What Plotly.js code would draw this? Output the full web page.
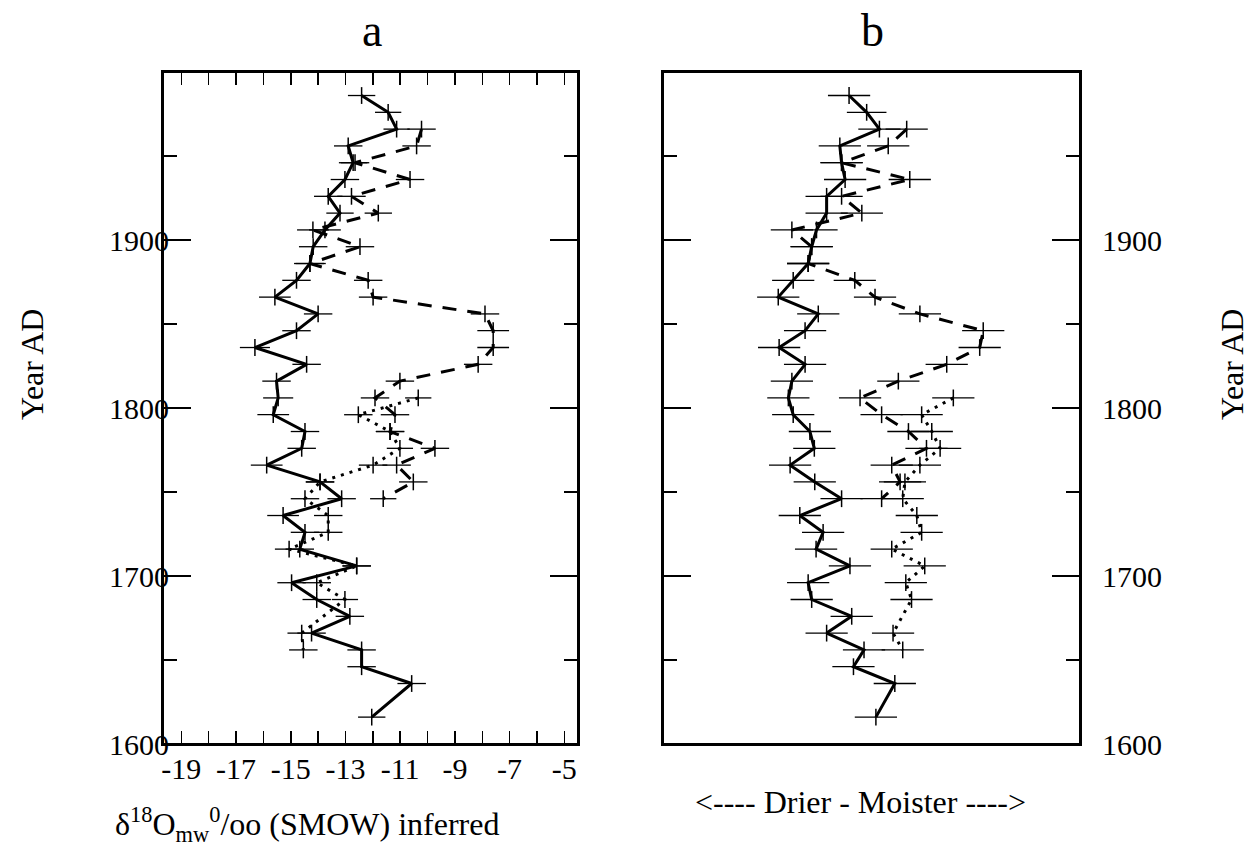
<!DOCTYPE html>
<html>
<head>
<meta charset="utf-8">
<script src="https://cdn.plot.ly/plotly-3.0.1.min.js"></script>
<style>html,body{margin:0;padding:0;background:#fff;}#chart{width:1253px;height:853px;}</style>
</head>
<body>
<div id="chart"></div>
<script>
// ---------- data ----------
const yearsSolid = [1986,1976,1966,1956,1946,1936,1926,1916,1906,1896,1886,1876,1866,1856,1846,1836,1826,1816,1806,1796,1786,1776,1766,1756,1746,1736,1726,1716,1706,1696,1686,1676,1666,1656,1646,1636,1616];
const yearsDashed = [1966,1956,1946,1936,1926,1916,1906,1896,1886,1876,1866,1856,1846,1836,1826,1816,1806,1796,1786,1776,1766,1756,1746];
const yearsDotted = [1806,1796,1786,1776,1766,1756,1746,1736,1726,1716,1706,1696,1686,1666,1656];

// panel a: delta18O (per mil SMOW)
const solidA = [-12.41,-11.44,-11.13,-12.90,-12.72,-13.02,-13.63,-13.20,-13.75,-14.18,-14.30,-14.79,-15.58,-14.00,-14.79,-16.31,-14.42,-15.52,-15.46,-15.64,-14.48,-14.60,-15.88,-13.93,-13.14,-15.28,-14.48,-14.67,-12.59,-14.97,-14.05,-12.84,-14.24,-12.41,-12.41,-10.58,-12.04];
const solidAErr = [0.5,0.48,0.48,0.52,0.52,0.52,0.52,0.5,0.58,0.52,0.58,0.52,0.58,0.52,0.52,0.55,0.52,0.52,0.55,0.58,0.52,0.52,0.58,0.52,0.52,0.58,0.52,0.52,0.52,0.52,0.52,0.52,0.52,0.52,0.52,0.52,0.5];
const dashedA = [-10.22,-10.40,-12.65,-10.64,-12.78,-11.80,-14.19,-12.47,-14.30,-12.17,-11.99,-7.90,-7.60,-7.60,-8.15,-11.01,-11.92,-11.19,-11.37,-9.73,-11.13,-10.52,-11.62];
const dashedAErr = [0.52,0.52,0.52,0.52,0.52,0.5,0.58,0.52,0.52,0.52,0.52,0.52,0.58,0.58,0.52,0.52,0.52,0.52,0.52,0.52,0.52,0.52,0.48];
const dottedA = [-10.34,-12.53,-11.37,-11.01,-11.99,-13.93,-14.48,-13.63,-13.63,-15.06,-12.59,-14.05,-13.02,-14.60,-14.54];
const dottedAErr = [0.48,0.52,0.52,0.48,0.52,0.52,0.52,0.52,0.52,0.52,0.52,0.52,0.48,0.52,0.52];

// panel b: relative moisture index (arbitrary units, drier -> moister)
const solidB = [42.3,46.3,49.2,40.2,40.6,41.4,37.2,37.2,34.9,33.8,33.0,29.6,26.2,35.3,32.3,26.4,32.3,29.3,28.5,29.6,33.4,34.4,28.9,34.5,40.6,31.1,36.4,34.8,42.5,33.0,33.8,42.9,37.2,45.7,43.3,52.7,48.4];
const solidBErr = [4.8,4.5,4.8,4.8,4.8,4.8,4.8,4.8,4.8,4.8,4.8,4.8,4.8,4.8,4.8,4.8,4.8,4.8,4.8,4.8,4.8,4.8,4.8,4.8,4.8,4.8,4.8,4.8,4.8,4.8,4.8,4.8,4.8,4.8,4.8,4.8,4.8];
const dashedB = [55.4,51.2,40.6,56.1,40.6,45.2,29.3,33.8,33.0,43.6,48.2,58.4,72.8,72.0,64.5,53.5,44.8,49.7,55.8,59.9,52.0,53.9,49.7];
const dashedBErr = [4.8,4.8,4.8,4.8,4.8,4.8,4.8,4.8,4.8,4.8,4.8,4.8,4.8,4.8,4.8,4.8,4.8,4.8,4.8,4.8,4.8,4.8,4.8];
const dottedB = [66.0,58.8,61.1,63.0,58.4,55.0,54.5,57.7,58.8,52.0,59.5,55.2,56.5,52.3,54.5];
const dottedBErr = [4.8,4.8,4.8,4.8,4.8,4.8,4.8,4.8,4.8,4.8,4.8,4.8,4.8,4.8,4.8];

// ticks
const xTickValsA = [-19,-18,-17,-16,-15,-14,-13,-12,-11,-10,-9,-8,-7,-6,-5];
const xTickTextA = ['-19','','-17','','-15','','-13','','-11','','-9','','-7','','-5'];
const yTickVals = [1600,1700,1800,1900];
const yTickText = ['1600','1700','1800','1900'];

// ---------- styling ----------
const FONT = 'Liberation Serif';
function series(x, y, err, dash, xa, ya) {
  return {
    type: 'scatter', mode: 'lines+markers', x: x, y: y, xaxis: xa, yaxis: ya,
    line: {color: '#000', width: 3, dash: dash},
    marker: {symbol: 'line-ns', size: 12, line: {color: '#000', width: 1.5}, color: '#000'},
    error_x: {type: 'data', array: err, visible: true, color: '#000', thickness: 1.3, width: 0},
    hoverinfo: 'x+y', showlegend: false
  };
}
const traces = [
  series(solidA, yearsSolid, solidAErr, 'solid', 'x', 'y'),
  series(dashedA, yearsDashed, dashedAErr, '14px,11px', 'x', 'y'),
  series(dottedA, yearsDotted, dottedAErr, '3px,6px', 'x', 'y'),
  series(solidB, yearsSolid, solidBErr, 'solid', 'x2', 'y2'),
  series(dashedB, yearsDashed, dashedBErr, '14px,11px', 'x2', 'y2'),
  series(dottedB, yearsDotted, dottedBErr, '3px,6px', 'x2', 'y2')
];

const W = 1253, H = 853;
const px = v => v / W, py = v => 1 - v / H;
const tickFont = {family: FONT, size: 30, color: '#000'};
const yDomain = [py(744), py(72)];
const baseY = {
  range: [1600, 2000], tickmode: 'array', tickvals: yTickVals, ticktext: yTickText,
  ticks: 'inside', ticklen: 28, tickwidth: 1.5, tickcolor: '#000',
  minor: {dtick: 50, tick0: 1600, ticks: 'inside', ticklen: 14, tickwidth: 1.5, tickcolor: '#000', showgrid: false},
  showline: true, linecolor: '#000', linewidth: 2, mirror: 'ticks',
  showgrid: false, zeroline: false, tickfont: tickFont, fixedrange: true
};

function label(text, x, y, size, angle) {
  return {text: text, x: px(x), y: py(y), xref: 'paper', yref: 'paper', xanchor: 'center', yanchor: 'middle',
          showarrow: false, textangle: angle || 0, font: {family: FONT, size: size, color: '#000'}};
}
function frame(xa, ya) {
  return {type: 'rect', xref: xa + ' domain', yref: ya + ' domain', x0: 0, x1: 1, y0: 0, y1: 1,
          line: {color: '#000', width: 2}, fillcolor: 'rgba(0,0,0,0)', layer: 'above'};
}

const layout = {
  width: W, height: H, margin: {l: 0, r: 0, t: 0, b: 0},
  paper_bgcolor: '#fff', plot_bgcolor: '#fff', showlegend: false,
  font: {family: FONT, color: '#000'},
  xaxis: {
    domain: [px(163), px(578)], anchor: 'y', range: [-19.67, -4.5],
    tickmode: 'array', tickvals: xTickValsA, ticktext: xTickTextA,
    ticks: 'inside', ticklen: 13, tickwidth: 1.5, tickcolor: '#000',
    showline: true, linecolor: '#000', linewidth: 2, mirror: 'ticks',
    showgrid: false, zeroline: false, tickfont: tickFont, ticklabelstandoff: -3, fixedrange: true
  },
  yaxis: Object.assign({}, baseY, {domain: yDomain, anchor: 'x', side: 'left', ticklabelstandoff: -14}),
  xaxis2: {
    domain: [px(663), px(1080)], anchor: 'y2', range: [0, 94.8],
    showticklabels: false, ticks: '', showline: true, linecolor: '#000', linewidth: 2, mirror: true,
    showgrid: false, zeroline: false, fixedrange: true
  },
  yaxis2: Object.assign({}, baseY, {domain: yDomain, anchor: 'x2', side: 'right', ticklabelstandoff: 14}),
  shapes: [frame('x', 'y'), frame('x2', 'y2')],
  annotations: [
    label('a', 372, 30, 46),
    label('b', 872, 30, 46),
    label('δ<sup>18</sup>O<sub>mw</sub><sup>0</sup>/oo (SMOW) inferred', 307, 824, 32),
    label('<---- Drier - Moister ---->', 860, 802, 32),
    label('Year AD', 32, 365, 32, -90),
    label('Year AD', 1232, 365, 32, -90)
  ]
};

Plotly.newPlot('chart', traces, layout, {displayModeBar: false, staticPlot: true});
</script>
</body>
</html>
